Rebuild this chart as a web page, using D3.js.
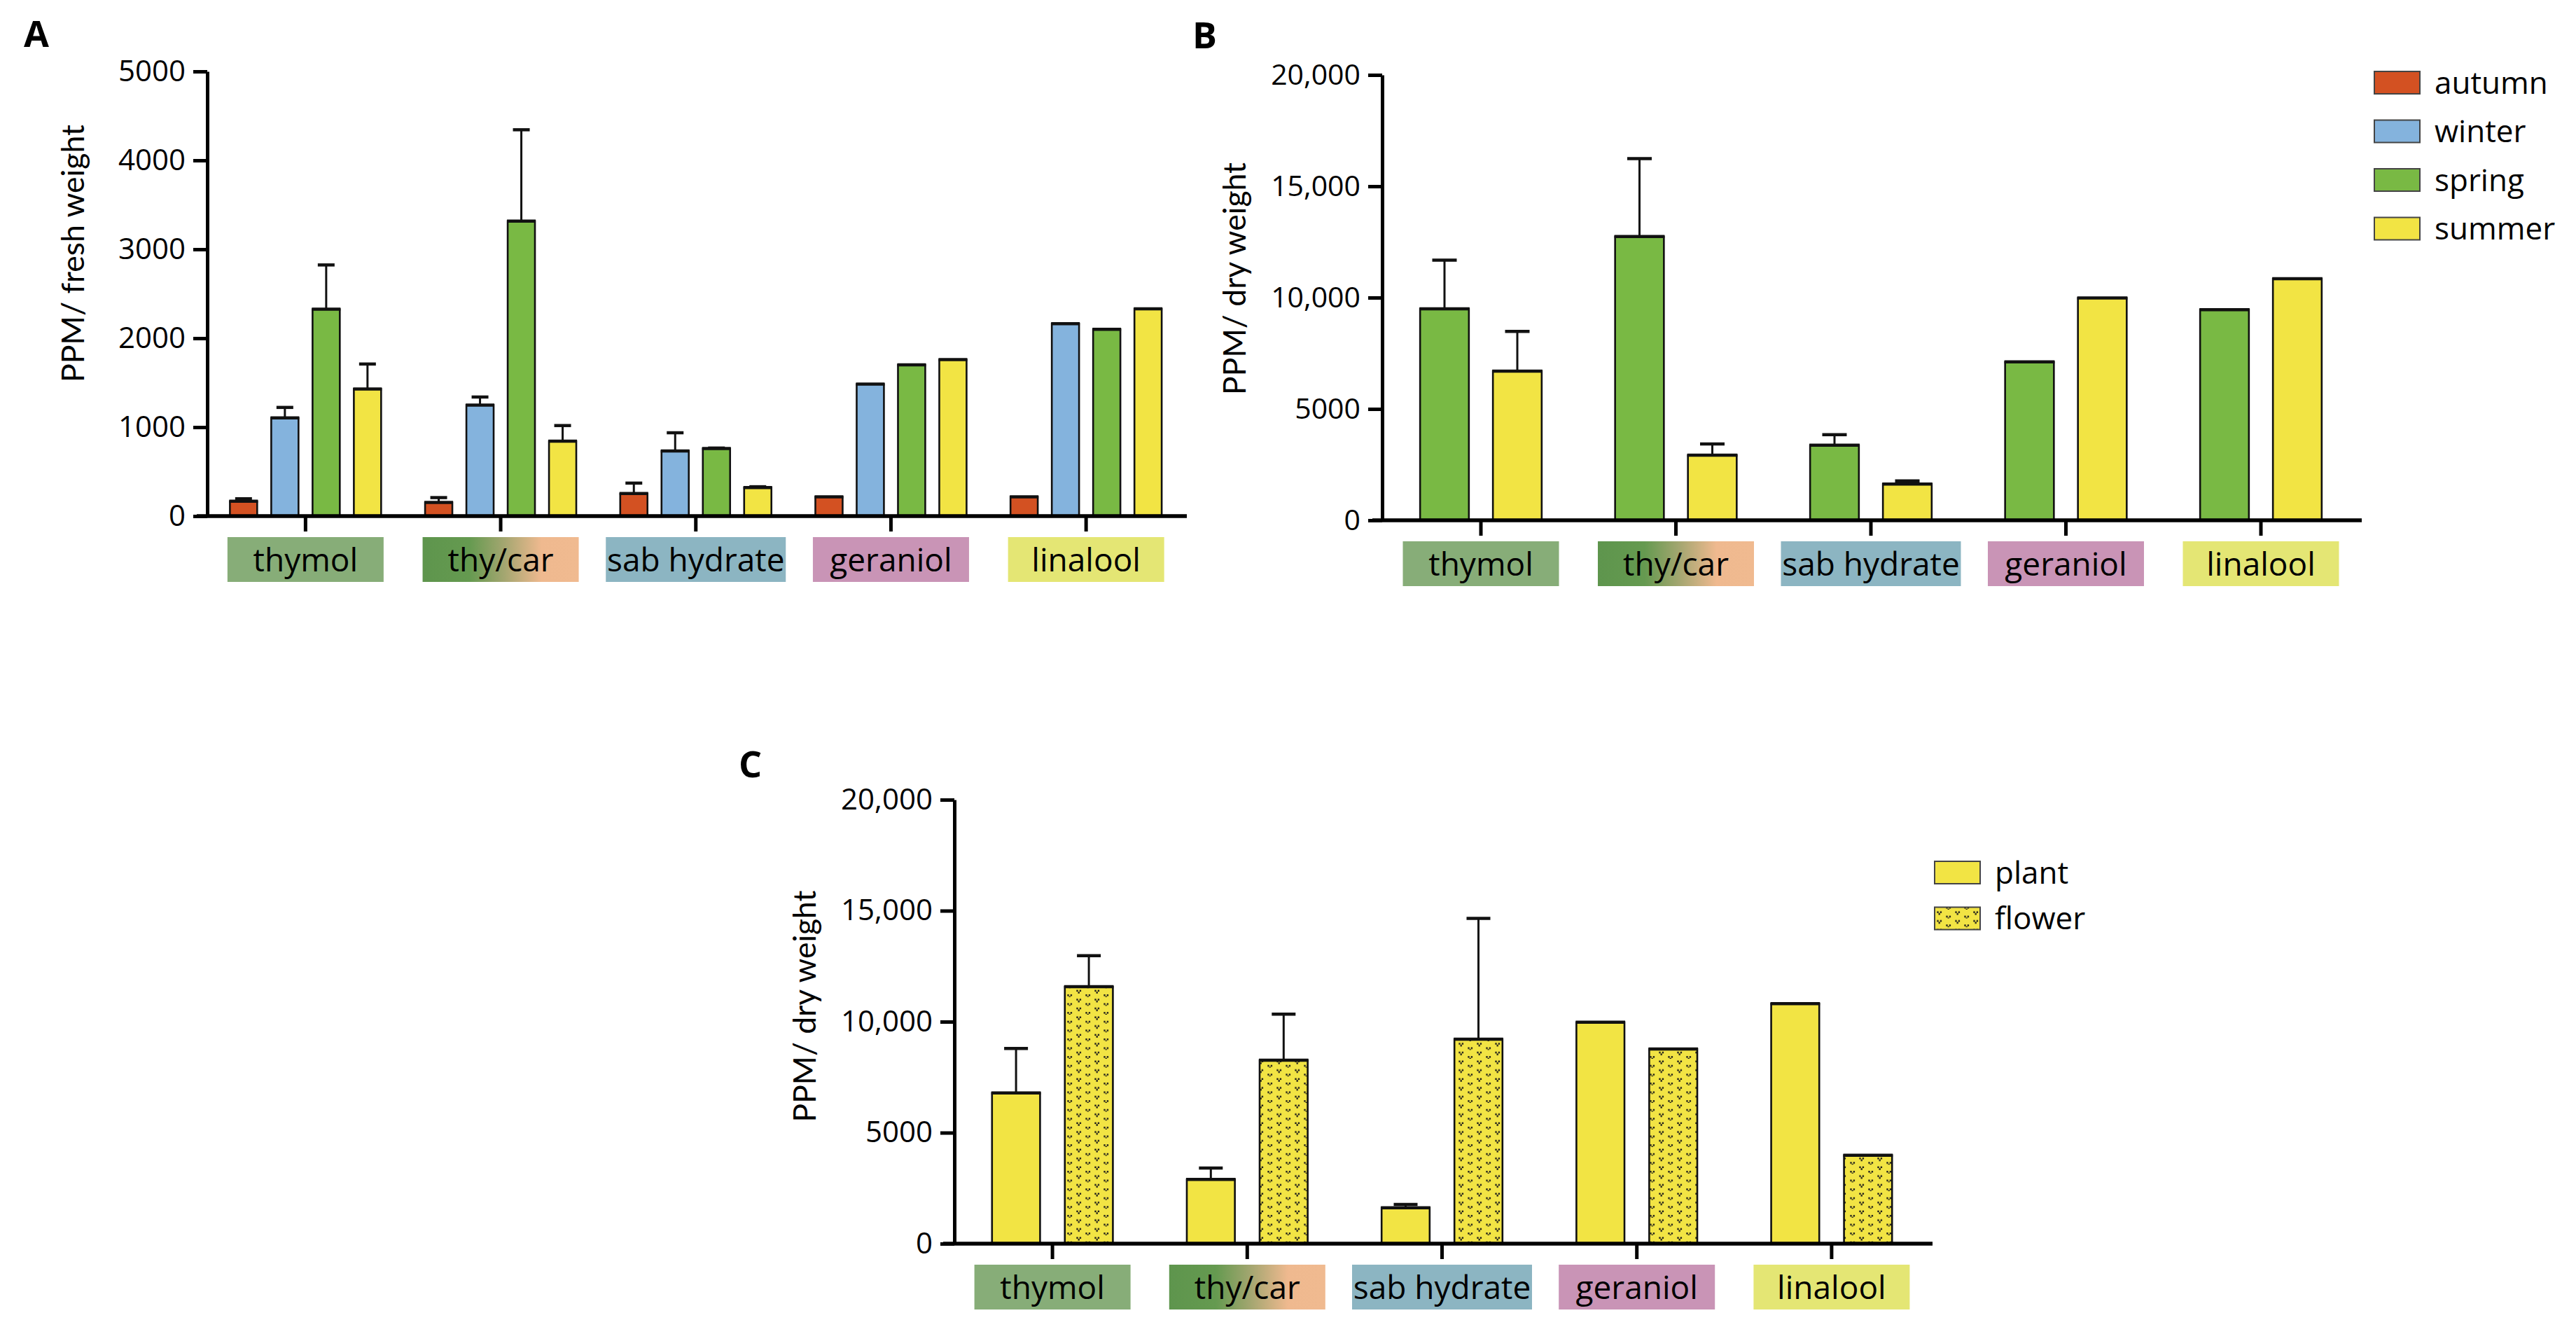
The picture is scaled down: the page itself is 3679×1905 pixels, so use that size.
<!DOCTYPE html>
<html>
<head>
<meta charset="utf-8">
<script src="https://cdnjs.cloudflare.com/ajax/libs/d3/7.8.5/d3.min.js"></script>
<style>
  body { margin: 0; background: #fff; }
  svg { display: block; }
</style>
</head>
<body>
<svg id="chart"></svg>
<script>
// ---- data ----
const categories = ["thymol", "thy/car", "sab hydrate", "geraniol", "linalool"];

// A: PPM / fresh weight, per season
const seasons = ["autumn", "winter", "spring", "summer"];
const autumnFresh    = [167, 154, 253, 217, 217];
const autumnFreshErr = [28, 54, 118, 0, 0];
const winterFresh    = [1104, 1249, 733, 1484, 2163];
const winterFreshErr = [118, 90, 204, 0, 0];
const springFresh    = [2326, 3317, 760, 1701, 2100];
const springFreshErr = [498, 1027, 5, 0, 0];
const summerFresh    = [1430, 842, 321, 1760, 2330];
const summerFreshErr = [280, 176, 9, 0, 0];

// B: PPM / dry weight, spring vs summer
const springDry    = [9495, 12744, 3375, 7112, 9458];
const springDryErr = [2184, 3501, 470, 0, 0];
const summerDry    = [6697, 2924, 1625, 9982, 10848];
const summerDryErr = [1787, 506, 144, 0, 0];

// C: PPM / dry weight, plant vs flower
const tissues = ["plant", "flower"];
const plantDry     = [6788, 2894, 1620, 9973, 10811];
const plantDryErr  = [2002, 509, 145, 0, 0];
const flowerDry    = [11575, 8263, 9209, 8772, 3986];
const flowerDryErr = [1402, 2075, 5442, 0, 0];

const ticksFresh = [0, 1000, 2000, 3000, 4000, 5000];
const ticksDry = [0, 5000, 10000, 15000, 20000];

// ---- styles ----
const seasonColor = { autumn: "#d35122", winter: "#84b3dd", spring: "#79b944", summer: "#f2e444" };
const tissueFill = { plant: "#f2e444", flower: "url(#flowerDots)" };
const labelFill = {
  "thymol": "#87ad78",
  "thy/car": "url(#thyCarGrad)",
  "sab hydrate": "#8cb5c2",
  "geraniol": "#c994b6",
  "linalool": "#e4e674"
};
const labelWidth = { "sab hydrate": 257 };

const svg = d3.select("#chart").attr("width", 3679).attr("height", 1905);
const defs = svg.append("defs");

const grad = defs.append("linearGradient").attr("id", "thyCarGrad");
[["0%", "#5e954d"], ["30%", "#659a50"], ["52%", "#a3a670"], ["76%", "#efb98f"], ["100%", "#f0ba90"]]
  .forEach(([o, c]) => grad.append("stop").attr("offset", o).attr("stop-color", c));

const pat = defs.append("pattern").attr("id", "flowerDots")
  .attr("patternUnits", "userSpaceOnUse").attr("width", 26).attr("height", 12.6);
pat.append("rect").attr("width", 26).attr("height", 12.6).attr("fill", "#f2e444");
[[6.5, 2.5], [19.5, 8.8]].forEach(([cx, cy]) => {
  [[-3.2, 0], [1.2, 0], [-1, 2.6]].forEach(([dx, dy]) => {
    pat.append("rect").attr("x", cx + dx).attr("y", cy + dy)
      .attr("width", 2.4).attr("height", 2.4).attr("fill", "#1a1a1a");
  });
});

const fmt = d => d >= 10000 ? d3.format(",")(d) : d3.format("d")(d);

function drawPanel(p) {
  const g = svg.append("g");

  const y = d3.scaleLinear().domain([0, p.max]).range([p.y0, p.yTop]);
  const x = d3.scaleBand().domain(categories).range(p.bandRange);
  const inner = d3.scaleBand().domain(p.keys)
    .range([-p.innerHalf, p.innerHalf])
    .paddingInner(p.pad).paddingOuter(p.pad / 2);

  // bars
  p.keys.forEach((k, ki) => {
    const vals = p.values[ki], errs = p.errors[ki];
    const rows = categories.map((c, i) => ({ c, v: vals[i], e: errs[i] }));
    const bx = d => x(d.c) + x.bandwidth() / 2 + inner(k);
    const bw = inner.bandwidth();

    g.append("g").selectAll("rect").data(rows).join("rect")
      .attr("x", bx).attr("y", d => y(d.v))
      .attr("width", bw).attr("height", d => p.y0 - y(d.v))
      .attr("fill", p.fill(k)).attr("stroke", "#111").attr("stroke-width", 2.6);

    g.append("g").selectAll("line").data(rows).join("line")
      .attr("x1", d => bx(d) - 1).attr("x2", d => bx(d) + bw + 1)
      .attr("y1", d => y(d.v)).attr("y2", d => y(d.v))
      .attr("stroke", "#111").attr("stroke-width", 4.5);

    const withErr = rows.filter(d => d.e > 0);
    g.append("g").selectAll("line").data(withErr).join("line")
      .attr("x1", d => bx(d) + bw / 2).attr("x2", d => bx(d) + bw / 2)
      .attr("y1", d => y(d.v)).attr("y2", d => y(d.v + d.e))
      .attr("stroke", "#111").attr("stroke-width", 3);
    g.append("g").selectAll("line").data(withErr).join("line")
      .attr("x1", d => bx(d) + bw / 2 - p.cap / 2).attr("x2", d => bx(d) + bw / 2 + p.cap / 2)
      .attr("y1", d => y(d.v + d.e)).attr("y2", d => y(d.v + d.e))
      .attr("stroke", "#111").attr("stroke-width", 4.5);
  });

  // y axis
  const ya = g.append("g").attr("transform", `translate(${p.yAxisX},0)`)
    .call(d3.axisLeft(y).tickValues(p.ticks).tickFormat(fmt).tickSize(20).tickSizeOuter(0).tickPadding(11));
  ya.select(".domain").attr("stroke", "#000").attr("stroke-width", 5);
  ya.selectAll(".tick line").attr("stroke", "#000").attr("stroke-width", 5);
  ya.selectAll(".tick text").attr("font-family", "'Open Sans', sans-serif")
    .attr("font-size", p.tickFont).attr("fill", "#000");

  // x axis
  g.append("line").attr("x1", p.xLine[0]).attr("x2", p.xLine[1])
    .attr("y1", p.y0).attr("y2", p.y0).attr("stroke", "#000").attr("stroke-width", 5.5);
  const xa = g.append("g").attr("transform", `translate(0,${p.y0})`)
    .call(d3.axisBottom(x).tickSize(22).tickFormat(""));
  xa.select(".domain").remove();
  xa.selectAll(".tick line").attr("stroke", "#000").attr("stroke-width", 5);

  // category label boxes
  const lab = g.append("g").selectAll("g").data(categories).join("g")
    .attr("transform", c => `translate(${x(c) + x.bandwidth() / 2},${p.y0 + 30})`);
  lab.append("rect")
    .attr("x", c => -(labelWidth[c] || 223) / 2).attr("width", c => labelWidth[c] || 223)
    .attr("height", 64).attr("fill", c => labelFill[c]);
  lab.append("text").attr("y", 32).attr("dy", "0.36em").attr("text-anchor", "middle")
    .attr("font-family", "'Open Sans', sans-serif").attr("font-size", 46).attr("fill", "#000")
    .text(c => c);

  // y title, sized to the length it has in the figure
  const title = g.append("text")
    .attr("transform", `translate(${p.titlePos[0]},${p.titlePos[1]}) rotate(-90)`)
    .attr("text-anchor", "middle").attr("font-family", "Lato, sans-serif")
    .attr("font-size", 40).attr("fill", "#000").text(p.title);
  const len = title.node().getComputedTextLength();
  if (len > 0) title.attr("font-size", 40 * p.titleLen / len);

  // panel letter
  g.append("text").attr("x", p.letterPos[0]).attr("y", p.letterPos[1])
    .attr("font-family", "'Open Sans', sans-serif").attr("font-weight", 700)
    .attr("font-size", 52).attr("fill", "#000").text(p.letter);

  // legend
  if (p.legend) {
    const lg = g.append("g").selectAll("g").data(p.legend.keys).join("g")
      .attr("transform", (k, i) => `translate(${p.legend.x},${p.legend.y + i * p.legend.step})`);
    lg.append("rect").attr("y", -16).attr("width", 65).attr("height", 32)
      .attr("fill", k => p.legend.fill(k)).attr("stroke", "#444").attr("stroke-width", 2);
    lg.append("text").attr("x", 86).attr("dy", "0.36em")
      .attr("font-family", "'Open Sans', sans-serif").attr("font-size", 44).attr("fill", "#000")
      .text(k => k);
  }
}

drawPanel({
  letter: "A", letterPos: [34, 67],
  max: 5000, ticks: ticksFresh, tickFont: 42,
  y0: 737, yTop: 102, yAxisX: 296, xLine: [281, 1695], bandRange: [297, 1690.5],
  keys: seasons,
  values: [autumnFresh, winterFresh, springFresh, summerFresh],
  errors: [autumnFreshErr, winterFreshErr, springFreshErr, summerFreshErr],
  fill: k => seasonColor[k], innerHalf: 118, pad: 0.34, cap: 24,
  title: "PPM/ fresh weight", titleLen: 368, titlePos: [120, 362]
});

drawPanel({
  letter: "B", letterPos: [1703, 69],
  max: 20000, ticks: ticksDry, tickFont: 41,
  y0: 743, yTop: 107, yAxisX: 1974, xLine: [1960, 3373], bandRange: [1975.75, 3368.25],
  keys: ["spring", "summer"],
  values: [springDry, summerDry],
  errors: [springDryErr, summerDryErr],
  fill: k => seasonColor[k], innerHalf: 104, pad: 0.33, cap: 35,
  title: "PPM/ dry weight", titleLen: 332, titlePos: [1779, 398],
  legend: { keys: seasons, fill: k => seasonColor[k], x: 3391, y: 118, step: 69.5 }
});

drawPanel({
  letter: "C", letterPos: [1055, 1110],
  max: 20000, ticks: ticksDry, tickFont: 42,
  y0: 1776, yTop: 1142, yAxisX: 1363, xLine: [1347, 2760], bandRange: [1364, 2755],
  keys: tissues,
  values: [plantDry, flowerDry],
  errors: [plantDryErr, flowerDryErr],
  fill: k => tissueFill[k], innerHalf: 104, pad: 0.34, cap: 34,
  title: "PPM/ dry weight", titleLen: 331, titlePos: [1165, 1437],
  legend: { keys: tissues, fill: k => tissueFill[k], x: 2763, y: 1246, step: 65.5 }
});
</script>
</body>
</html>
